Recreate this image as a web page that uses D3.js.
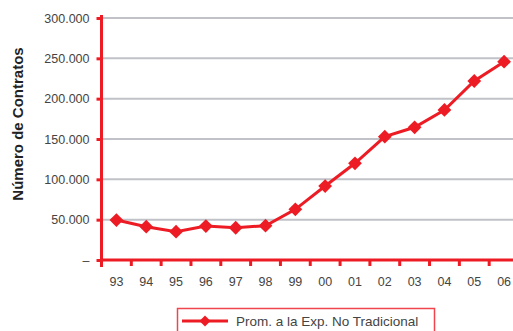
<!DOCTYPE html>
<html><head><meta charset="utf-8">
<script src="https://cdn.jsdelivr.net/npm/d3@7"></script>
<style>
body{margin:0;background:#fff;}
svg{display:block;}
text{font-family:"Liberation Sans Narrow","Arial Narrow","Liberation Sans",Arial,sans-serif;}
</style></head>
<body>
<svg id="c" width="513" height="331"></svg>
<script>
const categories = ["93","94","95","96","97","98","99","00","01","02","03","04","05","06"];
const values = [49500, 41300, 35100, 42100, 40000, 42500, 62800, 91700, 119900, 152900, 164500, 186000, 221900, 245800];
const yTicks = [0, 50000, 100000, 150000, 200000, 250000, 300000];
const yTickLabels = ["–", "50.000", "100.000", "150.000", "200.000", "250.000", "300.000"];
const seriesName = "Prom. a la Exp. No Tradicional";
const yTitle = "Número de Contratos";

(function(){
const red = "#ed1c24", grid = "#c0c2c8", textCol = "#444";
const svg = d3.select("#c");
const mLeft = 101.5, mRight = 519, mTop = 18, mBottom = 260;

const x = d3.scaleBand().domain(categories).range([mLeft, mRight]).paddingInner(0).paddingOuter(0);
const y = d3.scaleLinear().domain([0, 300000]).range([mBottom, mTop]);

// gridlines
svg.append("g").selectAll("line").data(yTicks.filter(d => d > 0)).join("line")
  .attr("x1", mLeft).attr("x2", 513).attr("y1", d => y(d)).attr("y2", d => y(d))
  .attr("stroke", grid).attr("stroke-width", 2);

// y axis
const yAxis = svg.append("g").attr("transform", `translate(${mLeft},0)`)
  .call(d3.axisLeft(y).tickValues(yTicks).tickSize(5).tickPadding(7).tickFormat((d, i) => yTickLabels[i]));
yAxis.select(".domain").remove();
yAxis.selectAll(".tick line").attr("stroke", red).attr("stroke-width", 3);
yAxis.selectAll(".tick text").attr("fill", textCol).attr("font-size", 12.5);
svg.append("line").attr("x1", mLeft).attr("x2", mLeft).attr("y1", 15).attr("y2", 267)
  .attr("stroke", red).attr("stroke-width", 3);

// x axis
const xAxis = svg.append("g").attr("transform", `translate(0,${mBottom})`)
  .call(d3.axisBottom(x).tickSize(0).tickPadding(17));
xAxis.select(".domain").remove();
xAxis.selectAll(".tick text").attr("fill", textCol).attr("font-size", 12.5);
svg.append("line").attr("x1", mLeft).attr("x2", 513).attr("y1", mBottom).attr("y2", mBottom)
  .attr("stroke", red).attr("stroke-width", 3);
svg.append("g").selectAll("line").data(categories.slice(1)).join("line")
  .attr("x1", d => x(d)).attr("x2", d => x(d)).attr("y1", mBottom).attr("y2", mBottom + 6)
  .attr("stroke", red).attr("stroke-width", 3);

// y title
svg.append("text").attr("transform", `translate(23,124) rotate(-90)`)
  .attr("text-anchor", "middle").attr("font-weight", "bold").attr("font-size", 15)
  .style("font-family", "'Liberation Sans',Arial,sans-serif").attr("fill", "#222").text(yTitle);

// line
const cx = d => x(d) + x.bandwidth() / 2;
const line = d3.line().x((d, i) => cx(categories[i])).y(d => y(d));
svg.append("path").datum(values).attr("d", line).attr("fill", "none")
  .attr("stroke", red).attr("stroke-width", 3);

const diamond = d3.symbol().type(d3.symbolSquare).size(95);
svg.append("g").selectAll("path").data(values).join("path")
  .attr("d", diamond())
  .attr("transform", (d, i) => `translate(${cx(categories[i])},${y(d)}) rotate(45)`)
  .attr("fill", red);

// legend
const lg = svg.append("g");
lg.append("rect").attr("x", 177.5).attr("y", 308.5).attr("width", 257).attr("height", 30)
  .attr("fill", "#fff").attr("stroke", "#f0454c").attr("stroke-width", 1.5);
lg.append("line").attr("x1", 182).attr("x2", 228).attr("y1", 321).attr("y2", 321)
  .attr("stroke", red).attr("stroke-width", 3);
lg.append("path").attr("d", d3.symbol().type(d3.symbolSquare).size(60)())
  .attr("transform", "translate(205,321) rotate(45)").attr("fill", red);
lg.append("text").attr("x", 236).attr("y", 326).attr("font-size", 13.5).attr("fill", textCol).text(seriesName);
})();
</script>
</body></html>
